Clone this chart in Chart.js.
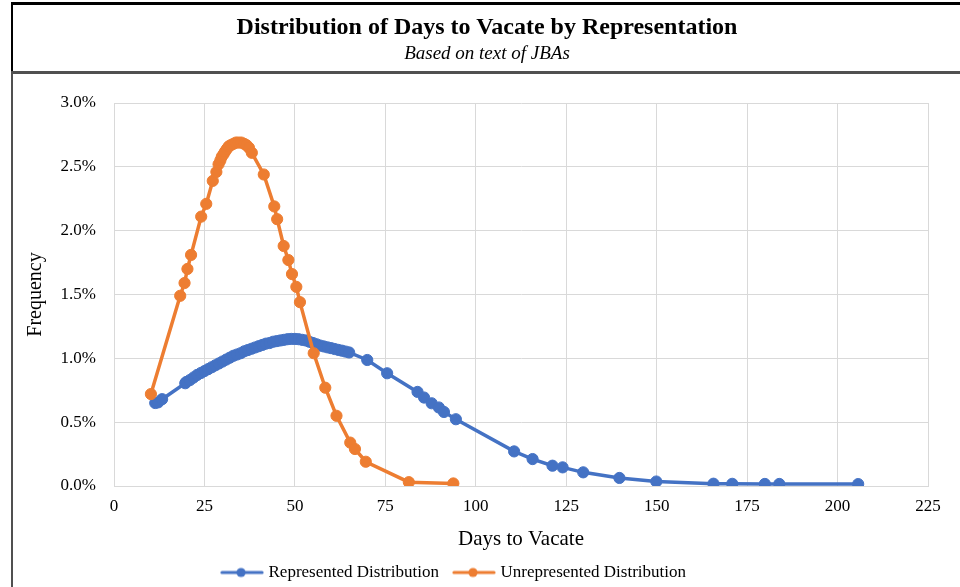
<!DOCTYPE html>
<html><head><meta charset="utf-8">
<script src="https://cdn.jsdelivr.net/npm/chart.js@4/dist/chart.umd.min.js"></script>
<style>
html,body{margin:0;padding:0;background:#fff;}
#wrap{position:relative;width:960px;height:587px;overflow:hidden;background:#fff;}
#c{position:absolute;left:0;top:0;}
.ln{position:absolute;}
#t1{position:absolute;left:14px;right:0;top:12px;line-height:28px;text-align:center;font-family:"Liberation Serif",serif;font-weight:bold;font-size:24px;color:#000;}
#t2{position:absolute;left:14px;right:0;top:41px;line-height:24px;text-align:center;font-family:"Liberation Serif",serif;font-style:italic;font-size:19px;color:#000;}
</style></head>
<body>
<div id="wrap">
<canvas id="c" width="960" height="587"></canvas>
<div class="ln" style="left:11px;top:2px;width:949px;height:3px;background:#000"></div>
<div class="ln" style="left:11px;top:2px;width:2px;height:70px;background:#000"></div>
<div class="ln" style="left:11px;top:71px;width:949px;height:3px;background:#505050"></div>
<div class="ln" style="left:11px;top:72px;width:2px;height:515px;background:#505050"></div>
<div id="t1">Distribution of Days to Vacate by Representation</div>
<div id="t2">Based on text of JBAs</div>
</div>
<script>
// ---- data (days, frequency in %) ----
const seriesNames = ["Represented Distribution", "Unrepresented Distribution"];
const repDays = [11.4, 12.2, 13.3, 19.7,
  20, 21, 22, 23, 24, 25, 26, 27, 28, 29, 30, 31, 32, 33, 34, 35, 36, 37, 38, 39, 40,
  41, 42, 43, 44, 45, 46, 47, 48, 49, 50, 51, 52, 53, 54, 55, 56, 57, 58, 59, 60,
  61, 62, 63, 64, 65,
  70.0, 75.5, 83.9, 85.7, 87.8, 89.8, 91.2, 94.5, 110.6, 115.7, 121.2, 124.0, 129.7,
  139.7, 149.9, 165.7, 170.9, 179.9, 183.9, 205.7];
const repFreq = [0.650, 0.655, 0.680, 0.805,
  0.815, 0.830, 0.850, 0.870, 0.885, 0.900, 0.915, 0.930, 0.945, 0.960, 0.975, 0.990, 1.005, 1.020, 1.030, 1.040, 1.055, 1.065, 1.075, 1.085, 1.095,
  1.105, 1.115, 1.120, 1.130, 1.135, 1.140, 1.145, 1.150, 1.152, 1.152, 1.150, 1.145, 1.140, 1.130, 1.120, 1.110, 1.100, 1.093, 1.086, 1.080,
  1.073, 1.066, 1.060, 1.053, 1.046,
  0.987, 0.883, 0.737, 0.693, 0.648, 0.615, 0.580, 0.523, 0.271, 0.211, 0.159, 0.146, 0.107,
  0.063, 0.035, 0.018, 0.017, 0.016, 0.016, 0.015];
const unrepDays = [10.2, 18.3, 19.5, 20.3, 21.3, 24.1, 25.5, 27.3, 28.3, 28.9, 29.4, 29.8, 30.3, 30.7,
  31.2, 31.7, 32.3, 33.0, 33.7, 34.4, 35.2, 36.0, 36.6, 37.3, 38.1, 41.4, 44.3, 45.1, 46.9,
  48.2, 49.2, 50.4, 51.4, 55.2, 58.4, 61.5, 65.3, 66.6, 69.6, 81.5, 93.8];
const unrepFreq = [0.72, 1.49, 1.59, 1.70, 1.81, 2.11, 2.21, 2.39, 2.46, 2.52, 2.55, 2.58, 2.60, 2.62,
  2.64, 2.66, 2.67, 2.68, 2.69, 2.69, 2.69, 2.68, 2.67, 2.65, 2.61, 2.44, 2.19, 2.09, 1.88,
  1.77, 1.66, 1.56, 1.44, 1.04, 0.77, 0.55, 0.34, 0.29, 0.19, 0.03, 0.02];
const xTicks = [0, 25, 50, 75, 100, 125, 150, 175, 200, 225];
const yTicks = [0, 0.5, 1.0, 1.5, 2.0, 2.5, 3.0];

const BLUE = "#4472C4", ORANGE = "#ED7D31";
const FONT = "'Liberation Serif', serif";

function legendIcon(color) {
  const c = document.createElement("canvas");
  c.width = 44; c.height = 14;
  const g = c.getContext("2d");
  g.strokeStyle = color; g.lineWidth = 3.2; g.lineCap = "round";
  g.beginPath(); g.moveTo(2, 7); g.lineTo(42, 7); g.stroke();
  g.fillStyle = color; g.beginPath(); g.arc(21, 7, 4.6, 0, Math.PI * 2); g.fill();
  return c;
}

const toPts = (xs, ys) => xs.map((x, i) => ({x: x, y: ys[i]}));

new Chart(document.getElementById("c"), {
  type: "scatter",
  data: {
    datasets: [
      {label: seriesNames[0], data: toPts(repDays, repFreq), showLine: true, order: 1,
       borderColor: BLUE, backgroundColor: BLUE, borderWidth: 3.5,
       pointRadius: 5.6, pointBorderWidth: 1, pointBackgroundColor: BLUE, pointBorderColor: BLUE,
       pointStyle: "circle", legendIcon: legendIcon(BLUE)},
      {label: seriesNames[1], data: toPts(unrepDays, unrepFreq), showLine: true, order: 0,
       borderColor: ORANGE, backgroundColor: ORANGE, borderWidth: 3.5,
       pointRadius: 5.6, pointBorderWidth: 1, pointBackgroundColor: ORANGE, pointBorderColor: ORANGE,
       pointStyle: "circle", legendIcon: legendIcon(ORANGE)}
    ]
  },
  options: {
    responsive: false, animation: false, devicePixelRatio: 1,
    layout: {padding: {left: -18, right: 32, top: 103, bottom: -4}},
    plugins: {
      tooltip: {enabled: false},
      title: {display: false},
      legend: {
        position: "bottom", align: "center",
        labels: {
          font: {family: FONT, size: 17}, color: "#000", padding: 17,
          usePointStyle: true, pointStyleWidth: 36, boxHeight: 14,
          sort: (a, b) => a.datasetIndex - b.datasetIndex,
          generateLabels: (chart) => chart.data.datasets.map((ds, i) => ({
            text: ds.label, datasetIndex: i, pointStyle: ds.legendIcon,
            fillStyle: ds.borderColor, strokeStyle: ds.borderColor, lineWidth: 0,
            hidden: !chart.isDatasetVisible(i), fontColor: "#000"
          }))
        }
      }
    },
    scales: {
      x: {
        type: "linear", min: 0, max: 225,
        afterFit: (s) => { s.height = 61; },
        afterBuildTicks: (s) => { s.ticks = xTicks.map(v => ({value: v})); },
        ticks: {font: {family: FONT, size: 17}, color: "#000", padding: 10, maxRotation: 0},
        grid: {color: "#d9d9d9", lineWidth: 1, drawTicks: false},
        border: {color: "#d9d9d9", width: 1},
        title: {display: true, text: "Days to Vacate", font: {family: FONT, size: 21}, color: "#000", padding: {top: 0, bottom: -4.6}}
      },
      y: {
        type: "linear", min: 0, max: 3,
        afterFit: (s) => { s.width = 132; },
        afterBuildTicks: (s) => { s.ticks = yTicks.map(v => ({value: v})); },
        ticks: {font: {family: FONT, size: 17}, color: "#000", padding: 18,
                callback: (v) => v.toFixed(1) + "%"},
        grid: {color: "#d9d9d9", lineWidth: 1, drawTicks: false},
        border: {color: "#d9d9d9", width: 1},
        title: {display: true, text: "Frequency", font: {family: FONT, size: 20}, color: "#000", padding: {top: 42, bottom: 0}}
      }
    }
  }
});
</script>
</body></html>
